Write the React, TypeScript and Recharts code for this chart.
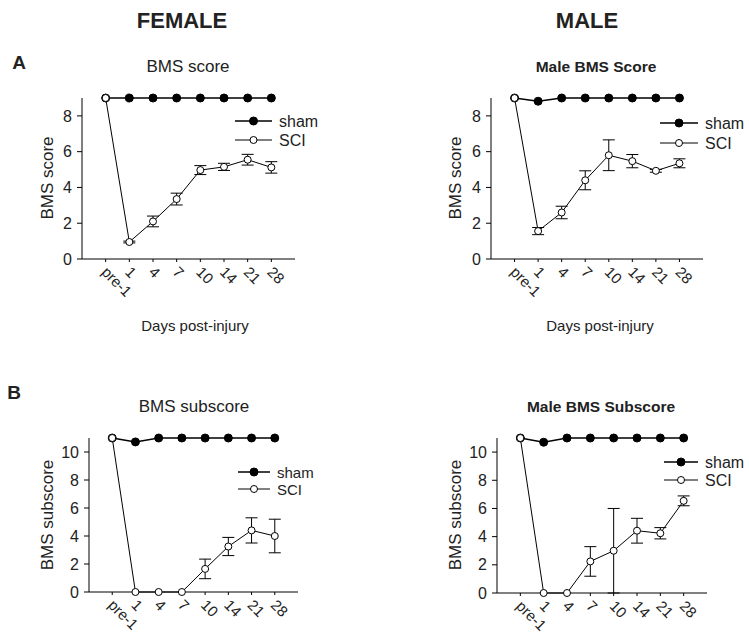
import { ErrorBar, Line, LineChart, XAxis, YAxis } from "recharts";

const days = ["pre-1", "1", "4", "7", "10", "14", "21", "28"];

// A: BMS score
const femaleScoreSham = [9, 9, 9, 9, 9, 9, 9, 9];
const femaleScoreSci = [9, 0.95, 2.1, 3.35, 4.97, 5.15, 5.55, 5.12];
const femaleScoreSciErr = [0, 0.05, 0.3, 0.33, 0.25, 0.2, 0.3, 0.32];

const maleScoreSham = [9, 8.82, 9, 9, 9, 9, 9, 9];
const maleScoreSci = [9, 1.56, 2.6, 4.4, 5.8, 5.47, 4.93, 5.35];
const maleScoreSciErr = [0, 0.2, 0.35, 0.53, 0.86, 0.37, 0.08, 0.25];

// B: BMS subscore
const femaleSubSham = [11, 10.72, 11, 11, 11, 11, 11, 11];
const femaleSubSci = [11, 0, 0, 0, 1.65, 3.25, 4.4, 4.0];
const femaleSubSciErr = [0, 0, 0, 0, 0.7, 0.65, 0.9, 1.2];

const maleSubSham = [11, 10.7, 11, 11, 11, 11, 11, 11];
const maleSubSci = [11, 0, 0, 2.24, 3.0, 4.42, 4.24, 6.54];
const maleSubSciErr = [0, 0, 0, 1.05, 3.0, 0.88, 0.4, 0.35];

const scoreTicks = [0, 2, 4, 6, 8];
const subscoreTicks = [0, 2, 4, 6, 8, 10];

const FONT = "'Liberation Sans', Arial, sans-serif";
const INK = "#222";

type Box = { x0: number; x1: number; y0: number; y1: number };

type PanelProps = {
  sham: number[];
  sci: number[];
  sciErr: number[];
  yMax: number;
  yTicks: number[];
  plot: Box;
};

function DayTick({ x, y, payload }: any) {
  return (
    <g transform={`translate(${x - 5},${y + 9}) rotate(45)`}>
      <text x={0} y={0} textAnchor="start" fontSize={15} fill={INK} fontFamily={FONT}>
        {payload.value}
      </text>
    </g>
  );
}

function Panel({ sham, sci, sciErr, yMax, yTicks, plot }: PanelProps) {
  const data = days.map((d, i) => ({ day: d, sham: sham[i], sci: sci[i], err: sciErr[i] }));
  const step = (plot.x1 - plot.x0) / 9;
  const width = plot.x1 - plot.x0 + 80 + 60;
  const height = plot.y1 - plot.y0 + 10 + 50;

  return (
    <div style={{ position: "absolute", left: plot.x0 - 80, top: plot.y0 - 10 }}>
      <LineChart
        width={width}
        height={height}
        data={data}
        margin={{ top: 10, right: 60, left: 40, bottom: 10 }}
      >
        <XAxis
          dataKey="day"
          interval={0}
          height={40}
          padding={{ left: step, right: step }}
          tick={<DayTick />}
          tickSize={3}
          tickLine={{ stroke: "#000" }}
          axisLine={{ stroke: "#000" }}
        />
        <YAxis
          type="number"
          domain={[0, yMax]}
          ticks={yTicks}
          width={40}
          tickSize={5}
          tickMargin={5}
          tick={{ fill: INK, fontSize: 16, fontFamily: FONT }}
          tickLine={{ stroke: "#000" }}
          axisLine={{ stroke: "#000" }}
        />
        <Line
          dataKey="sham"
          stroke="#000"
          strokeWidth={1.5}
          dot={{ r: 4, fill: "#000", stroke: "#000", strokeWidth: 1 }}
          isAnimationActive={false}
        />
        <Line
          dataKey="sci"
          stroke="#000"
          strokeWidth={1}
          dot={{ r: 3.5, fill: "#fff", stroke: "#000", strokeWidth: 1 }}
          isAnimationActive={false}
        >
          <ErrorBar dataKey="err" direction="y" width={6} stroke="#000" strokeWidth={1} />
        </Line>
      </LineChart>
    </div>
  );
}

function LegendKey({ x, y, len, filled, label, size = 16 }: { x: number; y: number; len: number; filled: boolean; label: string; size?: number }) {
  return (
    <g>
      <line x1={x} x2={x + len} y1={y} y2={y} stroke="#000" strokeWidth={filled ? 1.5 : 1} />
      <circle cx={x + len / 2} cy={y} r={filled ? 4 : 3.5} fill={filled ? "#000" : "#fff"} stroke="#000" />
      <text x={x + len + 7} y={y} dominantBaseline="central" fontSize={size} fill={INK} fontFamily={FONT}>
        {label}
      </text>
    </g>
  );
}

function Label({ x, y, text, size, bold, rotate }: { x: number; y: number; text: string; size: number; bold?: boolean; rotate?: boolean }) {
  return (
    <text
      x={x}
      y={y}
      textAnchor="middle"
      dominantBaseline="central"
      fontSize={size}
      fontWeight={bold ? 700 : 400}
      fill={INK}
      fontFamily={FONT}
      transform={rotate ? `rotate(-90 ${x} ${y})` : undefined}
    >
      {text}
    </text>
  );
}

export default function App() {
  return (
    <div style={{ position: "absolute", left: 0, top: 0, width: 749, height: 637, background: "#fff", fontFamily: FONT }}>
      <Panel sham={femaleScoreSham} sci={femaleScoreSci} sciErr={femaleScoreSciErr} yMax={9} yTicks={scoreTicks}
        plot={{ x0: 82, x1: 295, y0: 98, y1: 259 }} />
      <Panel sham={maleScoreSham} sci={maleScoreSci} sciErr={maleScoreSciErr} yMax={9} yTicks={scoreTicks}
        plot={{ x0: 491, x1: 703, y0: 98, y1: 259 }} />
      <Panel sham={femaleSubSham} sci={femaleSubSci} sciErr={femaleSubSciErr} yMax={11} yTicks={subscoreTicks}
        plot={{ x0: 89, x1: 298, y0: 438, y1: 592 }} />
      <Panel sham={maleSubSham} sci={maleSubSci} sciErr={maleSubSciErr} yMax={11} yTicks={subscoreTicks}
        plot={{ x0: 497, x1: 707, y0: 438, y1: 593 }} />

      <svg width={749} height={637} style={{ position: "absolute", left: 0, top: 0, pointerEvents: "none" }}>
        <Label x={182} y={20} text="FEMALE" size={22} bold />
        <Label x={587} y={20} text="MALE" size={22} bold />
        <Label x={19} y={62} text="A" size={19} bold />
        <Label x={14} y={392} text="B" size={19} bold />

        <Label x={188} y={66} text="BMS score" size={17} />
        <Label x={596} y={66} text="Male BMS Score" size={15.5} bold />
        <Label x={194} y={406} text="BMS subscore" size={17} />
        <Label x={601} y={406} text="Male BMS Subscore" size={15.5} bold />

        <Label x={47} y={178} text="BMS score" size={17} rotate />
        <Label x={455} y={178} text="BMS score" size={17} rotate />
        <Label x={47} y={515} text="BMS subscore" size={17} rotate />
        <Label x={455} y={515} text="BMS subscore" size={17} rotate />

        <Label x={195} y={325} text="Days post-injury" size={15} />
        <Label x={600} y={325} text="Days post-injury" size={15} />

        <LegendKey x={235} y={121} len={37} filled label="sham" />
        <LegendKey x={235} y={140} len={37} filled={false} label="SCI" />
        <LegendKey x={660} y={123} len={38} filled label="sham" />
        <LegendKey x={660} y={143} len={38} filled={false} label="SCI" />
        <LegendKey x={238} y={472} len={32} filled label="sham" size={15} />
        <LegendKey x={238} y={489} len={32} filled={false} label="SCI" size={15} />
        <LegendKey x={664} y={462} len={34} filled label="sham" />
        <LegendKey x={664} y={480} len={34} filled={false} label="SCI" />
      </svg>
    </div>
  );
}
